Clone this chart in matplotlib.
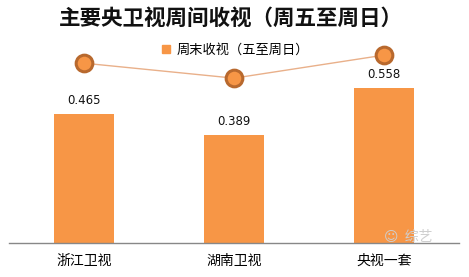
import matplotlib.pyplot as plt
from matplotlib.lines import Line2D

plt.rcParams["font.family"] = ["Noto Sans CJK SC", "DejaVu Sans"]

channels = ["浙江卫视", "湖南卫视", "央视一套"]
weekend = [0.465, 0.389, 0.558]
line_vals = [0.648, 0.594, 0.677]

BAR = "#F79646"
EDGE = "#B8692E"
LINE = "#E9B08A"

fig = plt.figure(figsize=(4.69, 2.77), dpi=100)
ax = fig.add_axes([9 / 469, 34 / 277, 450 / 469, 222 / 277])
x = range(len(channels))

ax.bar(x, weekend, width=0.4, color=BAR, zorder=2)
for xi, v in zip(x, weekend):
    ax.annotate(f"{v:.3f}", (xi, v), xytext=(0, 5), textcoords="offset points",
                ha="center", va="bottom", fontsize=8.5, color="#111111",
                family="DejaVu Sans")

ax.plot(x, line_vals, color=LINE, lw=1.0, zorder=3)
ax.plot(x, line_vals, "o", ms=12, mfc=BAR, mec=EDGE, mew=2.2, zorder=4)

ax.set_xlim(-0.5, 2.5)
ax.set_ylim(0, 0.8)
ax.set_yticks([])
ax.set_xticks(list(x))
ax.set_xticklabels(channels, fontsize=10)
ax.tick_params(axis="x", length=0, pad=8)
for s in ["top", "left", "right"]:
    ax.spines[s].set_visible(False)
ax.spines["bottom"].set_color("#888888")
ax.spines["bottom"].set_linewidth(1.0)

fig.text(0.492, 0.935, "主要央卫视周间收视（周五至周日）", ha="center", va="center",
         fontsize=15.5, fontweight="bold", color="#111111")

handle = Line2D([], [], marker="s", ls="", ms=6, color=BAR)
fig.legend([handle], ["周末收视（五至周日）"], loc="center", bbox_to_anchor=(0.5, 0.82),
           frameon=False, fontsize=9.5, handlelength=0.8, handletextpad=0.4)

fig.text(0.87, 0.145, "☺  综艺", ha="center", va="center", fontsize=10, color="#cfcfcf")

fig.savefig("out.png", dpi=100)
